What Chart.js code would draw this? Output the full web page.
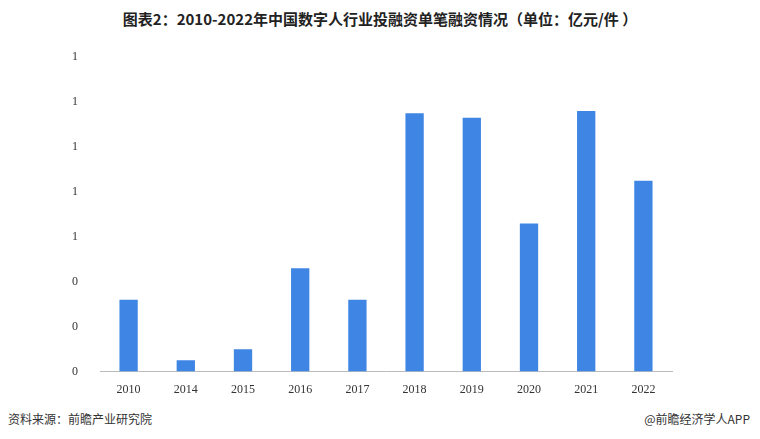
<!DOCTYPE html>
<html><head><meta charset="utf-8">
<script src="https://cdn.jsdelivr.net/npm/chart.js@4"></script>
<style>
body{margin:0;width:760px;height:439px;background:#fff;font-family:"Noto Sans CJK SC",sans-serif;position:relative;overflow:hidden}
#t{position:absolute;top:8px;left:0;width:760px;text-align:center;font-size:15px;font-weight:bold;color:#222}
#s{position:absolute;top:410px;left:8px;font-size:12px;color:#333}
#a{position:absolute;top:410px;right:10px;font-size:12px;color:#333}
#w{position:absolute;left:58px;top:36px;width:700px;height:364px}
</style></head><body>
<div id="t">图表2：2010-2022年中国数字人行业投融资单笔融资情况（单位：亿元/件 ）</div>
<div id="w"><canvas id="c"></canvas></div>
<div id="s">资料来源：前瞻产业研究院</div>
<div id="a">@前瞻经济学人APP</div>
<script>
const categories=["2010","2014","2015","2016","2017","2018","2019","2020","2021","2022"];
const values=[0.32,0.05,0.10,0.46,0.32,1.15,1.13,0.66,1.16,0.85];
new Chart(document.getElementById('c'),{type:'bar',
data:{labels:categories,datasets:[{data:values,backgroundColor:'#3f86e4',barPercentage:0.32,categoryPercentage:1}]},
options:{responsive:true,maintainAspectRatio:false,animation:false,
layout:{padding:{top:0,right:86,bottom:0}},
plugins:{legend:{display:false},tooltip:{enabled:false}},
scales:{x:{grid:{display:false},border:{color:'#bbb'},ticks:{color:'#333',font:{family:'Liberation Serif',size:12}}},
y:{min:0,max:1.4,grid:{display:false},border:{display:false},
ticks:{stepSize:0.2,color:'#333',padding:14,font:{family:'Liberation Serif',size:12},callback:v=>Math.round(v).toString()}}}}});
</script></body></html>
